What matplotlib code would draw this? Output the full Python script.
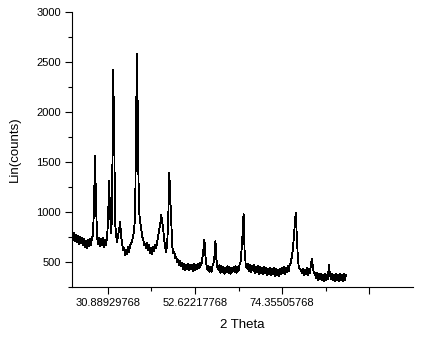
import numpy as np
import matplotlib
matplotlib.use("Agg")
import matplotlib.pyplot as plt
from matplotlib.ticker import MultipleLocator, FixedLocator

plt.rcParams['font.family'] = ['Liberation Sans', 'DejaVu Sans']

# 2 theta scan, 0.25 deg step starting at 22 deg
two_theta_start = 22.0
two_theta_step = 0.25
counts = [
    780, 720, 790, 710, 770, 700, 760, 680, 750, 690,
    740, 670, 730, 650, 710, 640, 720, 660, 730, 670,
    740, 770, 1050, 1560, 1100, 760, 680, 740, 660, 730,
    670, 740, 650, 720, 670, 750, 900, 1310, 1000, 790,
    950, 2420, 1920, 900, 770, 700, 770, 820, 900, 760,
    690, 620, 640, 570, 620, 580, 650, 600, 670, 680,
    720, 750, 830, 950, 2000, 2580, 1500, 1000, 900, 840,
    750, 730, 670, 680, 640, 690, 620, 670, 590, 640,
    580, 650, 610, 670, 640, 710, 760, 820, 880, 970,
    900, 820, 720, 640, 600, 700, 940, 1390, 1150, 920,
    650, 590, 600, 540, 550, 500, 520, 470, 510, 460,
    490, 430, 480, 420, 470, 430, 480, 420, 470, 430,
    470, 410, 480, 420, 470, 430, 480, 440, 490, 470,
    540, 620, 720, 560, 470, 420, 460, 400, 450, 400,
    460, 480, 560, 710, 520, 440, 420, 470, 390, 460,
    400, 450, 380, 440, 400, 460, 390, 450, 380, 440,
    400, 450, 400, 460, 390, 450, 410, 470, 500, 620,
    780, 980, 620, 490, 440, 480, 410, 470, 400, 460,
    420, 470, 390, 450, 400, 460, 380, 450, 390, 440,
    380, 450, 390, 440, 370, 430, 380, 440, 370, 430,
    380, 440, 360, 430, 370, 420, 360, 430, 380, 440,
    390, 450, 380, 440, 400, 460, 410, 470, 490, 550,
    620, 730, 880, 990, 760, 560, 440, 430, 420, 390,
    430, 370, 420, 380, 440, 370, 430, 390, 460, 530,
    460, 390, 390, 340, 390, 320, 380, 330, 380, 320,
    370, 310, 380, 320, 370, 330, 470, 380, 330, 380,
    320, 370, 310, 380, 320, 370, 310, 380, 320, 370,
    310, 380, 320, 370,
]
two_theta = two_theta_start + two_theta_step * np.arange(len(counts))

x_major = [30.88929768, 52.62217768, 74.35505768, 96.08793768]
x_labels = ['30.88929768', '52.62217768', '74.35505768', '']

fig = plt.figure(figsize=(4.28, 3.39), dpi=100)
ax = fig.add_axes([0.168, 0.1534, 0.797, 0.8112])
ax.plot(two_theta, counts, color='black', lw=0.6, antialiased=False)

ax.set_xlim(22.0, 106.95)
ax.set_ylim(250, 3000)

ax.xaxis.set_major_locator(FixedLocator(x_major))
ax.set_xticklabels(x_labels)
ax.xaxis.set_minor_locator(FixedLocator([x + 21.73288 / 2 for x in x_major]))
ax.yaxis.set_major_locator(MultipleLocator(500))
ax.yaxis.set_minor_locator(MultipleLocator(250))

ax.spines['top'].set_visible(False)
ax.spines['right'].set_visible(False)
ax.tick_params(which='major', direction='out', length=5, width=0.8, labelsize=8, pad=3)
ax.tick_params(which='minor', direction='out', length=3, width=0.8)

ax.set_xlabel('2 Theta', fontsize=9.5)
ax.set_ylabel('Lin(counts)', fontsize=9.5)
ax.xaxis.set_label_coords(0.5, -0.116)
ax.yaxis.set_label_coords(-0.15, 0.5)

fig.savefig('out.png', dpi=100)
